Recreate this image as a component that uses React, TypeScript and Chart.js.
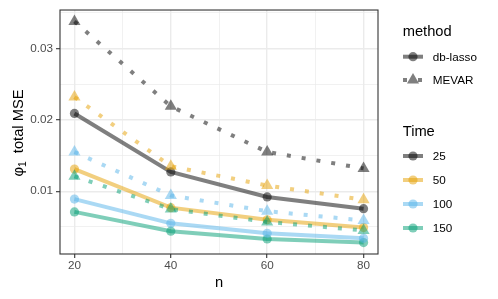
import React, { useEffect, useRef } from 'react';
import { Chart, registerables } from 'chart.js';

Chart.register(...registerables);

// ---- data ----
const nValues = [20, 40, 60, 80];
const timeLabels = ['25', '50', '100', '150'];
const methodLabels = ['db-lasso', 'MEVAR'];

const dbLasso25 = [0.0209, 0.0127, 0.0092, 0.00755];
const dbLasso50 = [0.0131, 0.0077, 0.006, 0.0049];
const dbLasso100 = [0.0089, 0.0055, 0.0041, 0.0034];
const dbLasso150 = [0.0071, 0.0044, 0.0033, 0.0028];

const mevar25 = [0.0338, 0.0219, 0.0155, 0.0132];
const mevar50 = [0.0232, 0.0135, 0.0108, 0.0088];
const mevar100 = [0.0155, 0.0094, 0.0072, 0.0059];
const mevar150 = [0.0121, 0.0075, 0.0057, 0.0045];

const xTickValues = [20, 30, 40, 50, 60, 70, 80];
const xMajorTicks = [20, 40, 60, 80];
const yTickValues = [0.005, 0.01, 0.015, 0.02, 0.025, 0.03, 0.035];
const yMajorTicks = [0.01, 0.02, 0.03];

// ---- styles ----
const timeRGB = ['0,0,0', '230,159,0', '86,180,233', '0,158,115'];
const ALPHA = 0.5;
const FONT = '"Liberation Sans", Arial, Helvetica, sans-serif';

const isMajor = (v: number, majors: number[]) => majors.some((m) => Math.abs(m - v) < 1e-9);

export default function App() {
  const canvasRef = useRef<HTMLCanvasElement | null>(null);

  useEffect(() => {
    document.body.style.margin = '0';
    const canvas = canvasRef.current;
    if (!canvas) return;

    const dbSeries = [dbLasso25, dbLasso50, dbLasso100, dbLasso150];
    const mevarSeries = [mevar25, mevar50, mevar100, mevar150];

    const datasets: any[] = [];
    timeLabels.forEach((t, i) => {
      const c = `rgba(${timeRGB[i]},${ALPHA})`;
      datasets.push({
        label: `${methodLabels[1]} ${t}`,
        data: nValues.map((n, k) => ({ x: n, y: mevarSeries[i][k] })),
        borderColor: c,
        backgroundColor: c,
        borderWidth: 4,
        borderDash: [4, 11],
        borderCapStyle: 'butt',
        pointStyle: 'triangle',
        pointRadius: 7,
        pointBorderWidth: 0,
        pointBackgroundColor: c,
        pointBorderColor: 'rgba(0,0,0,0)',
        tension: 0,
      });
    });
    timeLabels.forEach((t, i) => {
      const c = `rgba(${timeRGB[i]},${ALPHA})`;
      datasets.push({
        label: `${methodLabels[0]} ${t}`,
        data: nValues.map((n, k) => ({ x: n, y: dbSeries[i][k] })),
        borderColor: c,
        backgroundColor: c,
        borderWidth: 4,
        borderCapStyle: 'butt',
        pointStyle: 'circle',
        pointRadius: 4.6,
        pointBorderWidth: 0,
        pointBackgroundColor: c,
        pointBorderColor: 'rgba(0,0,0,0)',
        tension: 0,
      });
    });

    const decorPlugin = {
      id: 'decor',
      afterDraw(chart: any) {
        const ctx = chart.ctx as CanvasRenderingContext2D;
        const a = chart.chartArea;
        ctx.save();
        // panel border
        ctx.strokeStyle = '#333333';
        ctx.lineWidth = 1.1;
        ctx.strokeRect(a.left, a.top, a.right - a.left, a.bottom - a.top);

        // x title
        ctx.fillStyle = '#000000';
        ctx.font = `14.7px ${FONT}`;
        ctx.textAlign = 'center';
        ctx.textBaseline = 'alphabetic';
        ctx.fillText('n', (a.left + a.right) / 2, 287);

        // y title: phi_1  total MSE
        ctx.save();
        ctx.translate(17.3, 133);
        ctx.rotate(-Math.PI / 2);
        ctx.textAlign = 'left';
        const big = `14.7px ${FONT}`;
        const small = `10.3px ${FONT}`;
        ctx.font = big;
        const wPhi = ctx.measureText('φ').width;
        const wGap = ctx.measureText('  ').width;
        const wRest = ctx.measureText('total MSE').width;
        ctx.font = small;
        const wSub = ctx.measureText('1').width;
        const total = wPhi + wSub + wGap + wRest;
        let x = -total / 2;
        const base = 5.3;
        ctx.font = big;
        ctx.fillText('φ', x, base);
        x += wPhi;
        ctx.font = small;
        ctx.fillText('1', x, base + 3);
        x += wSub + wGap;
        ctx.font = big;
        ctx.fillText('total MSE', x, base);
        ctx.restore();

        // legends
        const keyX0 = 403;
        const keyX1 = 423;
        const keyC = 413;
        const textX = 432.7;
        ctx.textAlign = 'left';
        ctx.fillStyle = '#000000';
        ctx.font = `14.7px ${FONT}`;
        ctx.fillText('method', 402.7, 36);
        ctx.fillText('Time', 402.7, 135.5);

        const drawKey = (y: number, color: string, dashed: boolean, shape: 'circle' | 'triangle') => {
          ctx.save();
          ctx.strokeStyle = color;
          ctx.lineWidth = 4;
          ctx.lineCap = 'butt';
          ctx.setLineDash(dashed ? [4, 11] : []);
          ctx.beginPath();
          ctx.moveTo(keyX0, y);
          ctx.lineTo(keyX1, y);
          ctx.stroke();
          ctx.setLineDash([]);
          ctx.fillStyle = color;
          ctx.beginPath();
          if (shape === 'circle') {
            ctx.arc(keyC, y, 4.6, 0, Math.PI * 2);
          } else {
            const r = 7;
            ctx.moveTo(keyC, y - r);
            ctx.lineTo(keyC + r * Math.sin((2 * Math.PI) / 3), y - r * Math.cos((2 * Math.PI) / 3));
            ctx.lineTo(keyC - r * Math.sin((2 * Math.PI) / 3), y - r * Math.cos((2 * Math.PI) / 3));
            ctx.closePath();
          }
          ctx.fill();
          ctx.restore();
        };

        ctx.font = `11.7px ${FONT}`;
        const methodYs = [56.7, 80];
        methodLabels.forEach((m, i) => {
          drawKey(methodYs[i], 'rgba(0,0,0,0.5)', i === 1, i === 0 ? 'circle' : 'triangle');
          ctx.fillStyle = '#000000';
          ctx.fillText(m, textX, methodYs[i] + 4.2);
        });
        const timeYs = [156, 180, 204, 228];
        timeLabels.forEach((t, i) => {
          drawKey(timeYs[i], `rgba(${timeRGB[i]},${ALPHA})`, false, 'circle');
          ctx.fillStyle = '#000000';
          ctx.fillText(t, textX, timeYs[i] + 4.2);
        });
        ctx.restore();
      },
    };

    const chart = new Chart(canvas, {
      type: 'line',
      data: { datasets },
      options: {
        animation: false,
        responsive: false,
        maintainAspectRatio: false,
        layout: { padding: { left: 0, right: 120, top: 8, bottom: 0 } },
        plugins: {
          legend: { display: false },
          tooltip: { enabled: false },
        },
        scales: {
          x: {
            type: 'linear',
            min: 17,
            max: 83,
            afterBuildTicks: (scale: any) => {
              scale.ticks = xTickValues.map((v) => ({ value: v }));
            },
            afterFit: (scale: any) => {
              scale.height = 45;
            },
            border: { display: false },
            grid: {
              color: '#EBEBEB',
              lineWidth: (c: any) => (isMajor(c.tick?.value, xMajorTicks) ? 1.4 : 0.7),
              drawTicks: true,
              tickLength: 4,
              tickColor: (c: any) => (isMajor(c.tick?.value, xMajorTicks) ? '#333333' : 'rgba(0,0,0,0)'),
              tickWidth: 1.1,
            },
            ticks: {
              autoSkip: false,
              maxRotation: 0,
              padding: 1,
              color: '#4D4D4D',
              font: { family: FONT, size: 11.7 },
              callback: (v: any) => (isMajor(Number(v), xMajorTicks) ? String(v) : ''),
            },
          },
          y: {
            type: 'linear',
            min: 0.0012,
            max: 0.0354,
            afterBuildTicks: (scale: any) => {
              scale.ticks = yTickValues.map((v) => ({ value: v }));
            },
            afterFit: (scale: any) => {
              scale.width = 60;
            },
            border: { display: false },
            grid: {
              color: '#EBEBEB',
              lineWidth: (c: any) => (isMajor(c.tick?.value, yMajorTicks) ? 1.4 : 0.7),
              drawTicks: true,
              tickLength: 4,
              tickColor: (c: any) => (isMajor(c.tick?.value, yMajorTicks) ? '#333333' : 'rgba(0,0,0,0)'),
              tickWidth: 1.1,
            },
            ticks: {
              autoSkip: false,
              padding: 3,
              color: '#4D4D4D',
              font: { family: FONT, size: 11.7 },
              callback: (v: any) => (isMajor(Number(v), yMajorTicks) ? Number(v).toFixed(2) : ''),
            },
          },
        },
      },
      plugins: [decorPlugin],
    });

    return () => {
      chart.destroy();
    };
  }, []);

  return (
    <div style={{ position: 'relative', width: 498, height: 299 }}>
      <canvas ref={canvasRef} width={498} height={299} style={{ display: 'block', width: 498, height: 299 }} />
    </div>
  );
}
